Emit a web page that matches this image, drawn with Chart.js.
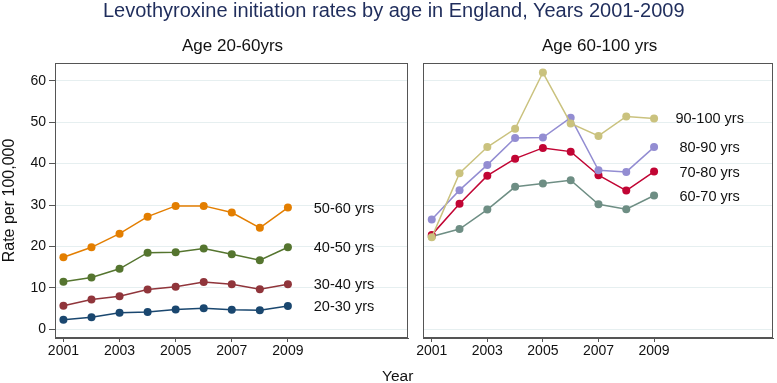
<!DOCTYPE html>
<html>
<head>
<meta charset="utf-8">
<script src="https://cdn.jsdelivr.net/npm/chart.js@4.4.1/dist/chart.umd.min.js"></script>
<style>
  body { margin: 0; background: #fff; }
  #wrap { position: relative; width: 777px; height: 383px; overflow: hidden; font-family: "Liberation Sans", Arial, sans-serif; }
  .txt { position: absolute; white-space: nowrap; line-height: 20px; }
  #left-box { position: absolute; left: 0; top: 0; width: 415px; height: 383px; }
  #right-box { position: absolute; left: 415px; top: 0; width: 362px; height: 383px; }
</style>
</head>
<body>
<div id="wrap">
  <div id="left-box"><canvas id="left-chart"></canvas></div>
  <div id="right-box"><canvas id="right-chart"></canvas></div>
  <div class="txt" style="left:103px; top:0px; font-size:20px; color:#1f2d5c;">Levothyroxine initiation rates by age in England, Years 2001-2009</div>
  <div class="txt" style="left:182px; top:36px; font-size:17px; color:#111;">Age 20-60yrs</div>
  <div class="txt" style="left:542px; top:36px; font-size:17px; color:#111;">Age 60-100 yrs</div>
  <div class="txt" style="left:382px; top:366px; font-size:15.5px; color:#111;">Year</div>
</div>
<script>
const years = [2001, 2002, 2003, 2004, 2005, 2006, 2007, 2008, 2009];
const yearTicks = [2001, 2003, 2005, 2007, 2009];
const rateTicks = [0, 10, 20, 30, 40, 50, 60];

// Age 20-60
const age50to60 = [17.4, 19.8, 23.1, 27.2, 29.8, 29.8, 28.2, 24.5, 29.4];
const age40to50 = [11.5, 12.5, 14.6, 18.5, 18.6, 19.5, 18.1, 16.7, 19.8];
const age30to40 = [5.7, 7.2, 8.0, 9.6, 10.3, 11.4, 10.9, 9.7, 10.9];
const age20to30 = [2.3, 2.9, 4.0, 4.2, 4.8, 5.1, 4.7, 4.6, 5.6];

// Age 60-100
const age90to100 = [22.2, 37.7, 44.0, 48.4, 62.0, 49.7, 46.7, 51.4, 50.9];
const age80to90 = [26.5, 33.6, 39.7, 46.2, 46.3, 51.1, 38.4, 38.0, 44.0];
const age70to80 = [22.8, 30.3, 37.1, 41.2, 43.8, 42.9, 37.2, 33.5, 38.1];
const age60to70 = [22.4, 24.2, 28.9, 34.4, 35.2, 36.0, 30.2, 29.0, 32.3];

// first entry is drawn on top
const leftSeries = [
  { label: '50-60 yrs', data: age50to60, color: '#e37e00' },
  { label: '40-50 yrs', data: age40to50, color: '#55752f' },
  { label: '30-40 yrs', data: age30to40, color: '#90353b' },
  { label: '20-30 yrs', data: age20to30, color: '#1a476f' }
];
const rightSeries = [
  { label: '90-100 yrs', data: age90to100, color: '#cac27e' },
  { label: '80-90 yrs', data: age80to90, color: '#938dd2' },
  { label: '70-80 yrs', data: age70to80, color: '#c10534' },
  { label: '60-70 yrs', data: age60to70, color: '#6e8e84' }
];

const frameColor = '#555';
const gridColor = '#e6eff0';

// box around plot area + series name at the end of each line
const panelPlugin = {
  id: 'panel',
  afterDraw(chart) {
    const ctx = chart.ctx;
    const a = chart.chartArea;
    ctx.save();
    ctx.strokeStyle = frameColor;
    ctx.lineWidth = 1;
    const l = Math.round(a.left) + 0.5, r = Math.round(a.right) - 0.5;
    const t = Math.round(a.top) + 0.5, b = Math.round(a.bottom) - 0.5;
    ctx.strokeRect(l, t, r - l, b - t);

    const xs = chart.scales.x, ys = chart.scales.y;
    ctx.fillStyle = '#111';
    ctx.font = '14.5px "Liberation Sans", Arial, sans-serif';
    ctx.textAlign = 'center';
    ctx.textBaseline = 'middle';
    chart.data.datasets.forEach(ds => {
      const last = ds.data[ds.data.length - 1];
      ctx.fillText(ds.label, xs.getPixelForValue(2011), ys.getPixelForValue(last.y) + 1);
    });
    ctx.restore();
  }
};

function makePanel(canvasId, series, showYLabels, padRight) {
  const ctx = document.getElementById(canvasId).getContext('2d');
  return new Chart(ctx, {
    type: 'line',
    data: {
      datasets: series.map(s => ({
        label: s.label,
        data: years.map((yr, i) => ({ x: yr, y: s.data[i] })),
        borderColor: s.color,
        backgroundColor: s.color,
        borderWidth: 1.5,
        pointRadius: 4,
        pointBorderWidth: 0,
        pointHoverRadius: 4,
        tension: 0
      }))
    },
    options: {
      responsive: true,
      maintainAspectRatio: false,
      animation: false,
      layout: { padding: { top: 63, right: padRight, bottom: 0, left: 0 } },
      plugins: { legend: { display: false }, tooltip: { enabled: false } },
      scales: {
        x: {
          type: 'linear',
          min: 2000.7,
          max: 2013.28,
          afterBuildTicks: scale => { scale.ticks = yearTicks.map(v => ({ value: v })); },
          afterFit: scale => { scale.height = 45; },
          ticks: {
            color: '#111',
            font: { size: 14, family: '"Liberation Sans", Arial, sans-serif' },
            padding: 1,
            maxRotation: 0,
            autoSkip: false,
            callback: v => String(v)
          },
          grid: { drawOnChartArea: false, drawTicks: true, tickLength: 4, tickColor: frameColor },
          border: { display: true, color: frameColor, width: 1 }
        },
        y: {
          min: -2.1,
          max: 64.3,
          afterBuildTicks: scale => { scale.ticks = rateTicks.map(v => ({ value: v })); },
          afterFit: scale => { scale.width = showYLabels ? 55 : 7; },
          title: {
            display: showYLabels,
            text: 'Rate per 100,000',
            color: '#111',
            font: { size: 16, family: '"Liberation Sans", Arial, sans-serif' },
            padding: { top: 0, bottom: 0 }
          },
          ticks: {
            display: showYLabels,
            color: '#111',
            font: { size: 14, family: '"Liberation Sans", Arial, sans-serif' },
            padding: 3
          },
          grid: { color: gridColor, lineWidth: 1, drawTicks: showYLabels, tickLength: 6, tickColor: frameColor },
          border: { display: true, color: frameColor, width: 1 }
        }
      }
    },
    plugins: [panelPlugin]
  });
}

makePanel('left-chart', leftSeries, true, 7);
makePanel('right-chart', rightSeries, false, 2);
</script>
</body>
</html>
